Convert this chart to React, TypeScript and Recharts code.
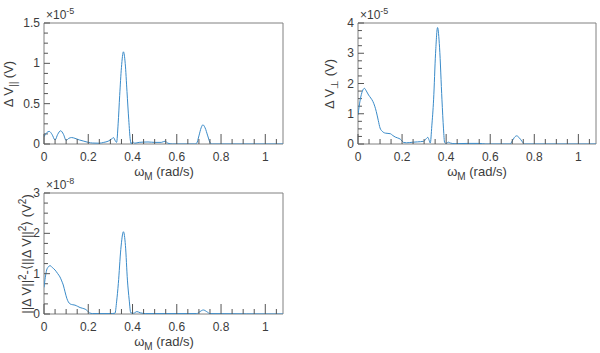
import { LineChart, Line, XAxis, YAxis, ReferenceArea, ReferenceLine } from 'recharts';

// ΔV parallel spectrum (×1e-5 V)
const parOmega = [0, 0.012, 0.024, 0.036, 0.05, 0.062, 0.075, 0.088, 0.1, 0.112, 0.125, 0.14, 0.16, 0.18, 0.2, 0.22, 0.25, 0.27, 0.29, 0.305, 0.314, 0.322, 0.328, 0.335, 0.342, 0.35, 0.359, 0.367, 0.375, 0.383, 0.39, 0.395, 0.4, 0.41, 0.43, 0.47, 0.5, 0.53, 0.547, 0.56, 0.58, 0.68, 0.69, 0.7, 0.71, 0.718, 0.728, 0.74, 0.752, 0.76, 1.08];
const parValues = [0.09, 0.14, 0.156, 0.12, 0.05, 0.12, 0.164, 0.12, 0.045, 0.07, 0.08, 0.07, 0.05, 0.035, 0.02, 0.012, 0.01, 0.02, 0.035, 0.06, 0.08, 0.04, 0.02, 0.25, 0.6, 0.95, 1.143, 1.0, 0.65, 0.3, 0.05, 0.0, 0.03, 0.01, 0.02, 0.025, 0.02, 0.02, 0.035, 0.01, 0.0, 0.0, 0.01, 0.1, 0.2, 0.238, 0.2, 0.1, 0.01, 0.0, 0.0];

// ΔV perpendicular spectrum (×1e-5 V)
const perpOmega = [0, 0.01, 0.02, 0.029, 0.038, 0.048, 0.058, 0.068, 0.076, 0.083, 0.092, 0.1, 0.11, 0.124, 0.136, 0.147, 0.158, 0.169, 0.18, 0.192, 0.2, 0.207, 0.22, 0.25, 0.27, 0.298, 0.31, 0.317, 0.323, 0.328, 0.335, 0.343, 0.352, 0.361, 0.37, 0.381, 0.388, 0.393, 0.4, 0.41, 0.42, 0.44, 0.5, 0.55, 0.58, 0.69, 0.7, 0.71, 0.72, 0.73, 0.745, 0.755, 1.08];
const perpValues = [0.96, 1.46, 1.75, 1.84, 1.75, 1.62, 1.52, 1.4, 1.25, 1.07, 0.78, 0.53, 0.42, 0.36, 0.35, 0.34, 0.28, 0.23, 0.2, 0.16, 0.1, 0.05, 0.04, 0.06, 0.07, 0.09, 0.18, 0.22, 0.12, 0.03, 0.6, 1.46, 3.0, 3.85, 3.2, 1.46, 0.5, 0.05, 0.02, 0.06, 0.03, 0.01, 0.02, 0.02, 0.0, 0.0, 0.1, 0.22, 0.27, 0.22, 0.08, 0.0, 0.0];

// variance of |ΔV|² (×1e-8 V²)
const varOmega = [0, 0.012, 0.02, 0.027, 0.038, 0.05, 0.062, 0.072, 0.08, 0.087, 0.095, 0.103, 0.11, 0.118, 0.13, 0.14, 0.152, 0.163, 0.175, 0.186, 0.196, 0.205, 0.22, 0.3, 0.321, 0.328, 0.336, 0.347, 0.359, 0.368, 0.377, 0.385, 0.392, 0.405, 0.42, 0.435, 0.46, 0.69, 0.705, 0.72, 0.735, 0.75, 1.08];
const varValues = [0.66, 1.09, 1.17, 1.2, 1.15, 1.09, 1.0, 0.92, 0.82, 0.72, 0.55, 0.39, 0.3, 0.25, 0.23, 0.22, 0.19, 0.16, 0.14, 0.12, 0.08, 0.03, 0.01, 0.01, 0.02, 0.3, 0.76, 1.6, 2.04, 1.7, 0.84, 0.35, 0.03, 0.02, 0.06, 0.03, 0.01, 0.01, 0.06, 0.1, 0.06, 0.01, 0.0];

const xMax = 1.08;
const xMinorTicks = Array.from({ length: 22 }, (_, i) => +(i * 0.05).toFixed(2));
const xMajorTicks = [0, 0.2, 0.4, 0.6, 0.8, 1];

const parYTicks = [0, 0.5, 1, 1.5];
const perpYTicks = [0, 1, 2, 3, 4];
const varYTicks = [0, 1, 2, 3];

const FONT = '"Liberation Sans", Arial, sans-serif';
const LINE = '#3a8bc9';
const BOX = '#808080';
const TICK = '#555555';
const TEXT = '#3c3c3c';
// minor y tick length, in ω units (≈4px)
const MINOR_LEN = 0.018;

const toRows = (xs: number[], ys: number[]) => xs.map((x, i) => ({ x, v: ys[i] }));

const isMajor = (v: number, majors: number[]) => majors.some((m) => Math.abs(m - v) < 1e-6);

// three minor ticks between labelled ones
function minorOnly(majors: number[]) {
  const out: number[] = [];
  for (let i = 0; i < majors.length - 1; i++) {
    const step = (majors[i + 1] - majors[i]) / 4;
    for (let k = 1; k < 4; k++) out.push(+(majors[i] + k * step).toFixed(4));
  }
  return out;
}

function XTick(props: any) {
  const { x, y, payload } = props;
  const major = isMajor(payload.value, xMajorTicks);
  return (
    <g>
      <line x1={x} x2={x} y1={y} y2={y - (major ? 10 : 5)} stroke={TICK} strokeWidth={1} />
      {major && (
        <text x={x} y={y + 17} textAnchor="middle" fontSize={12} fontFamily={FONT} fill={TEXT}>
          {String(payload.value)}
        </text>
      )}
    </g>
  );
}

function YTick(props: any) {
  const { x, y, payload } = props;
  return (
    <g>
      <line x1={x} x2={x + 6} y1={y} y2={y} stroke={TICK} strokeWidth={1} />
      <text x={x - 4} y={y + 4} textAnchor="end" fontSize={12} fontFamily={FONT} fill={TEXT}>
        {String(payload.value)}
      </text>
    </g>
  );
}

// x title, drawn by the XAxis label slot
function XTitle({ cx }: { cx: number }) {
  return (
    <text x={cx} y={176} textAnchor="middle" fontSize={13} fontFamily={FONT} fill={TEXT}>
      ω<tspan dy={4} fontSize={10}>M</tspan>
      <tspan dy={-4}> (rad/s)</tspan>
    </text>
  );
}

// y title plus the ×10^n multiplier, drawn by the YAxis label slot
function YTitle({ kind, tx, ex }: { kind: 'par' | 'perp' | 'var'; tx: number; ex: number }) {
  return (
    <g>
      <text x={ex} y={19} fontSize={12} fontFamily={FONT} fill={TEXT}>
        ×10
        <tspan dy={-5} fontSize={9}>{kind === 'var' ? '-8' : '-5'}</tspan>
      </text>
      {kind === 'par' && (
        <text transform={`translate(${tx},84) rotate(-90)`} textAnchor="middle" fontSize={13} fontFamily={FONT} fill={TEXT}>
          Δ V<tspan dy={4} fontSize={10}>||</tspan>
          <tspan dy={-4}> (V)</tspan>
        </text>
      )}
      {kind === 'perp' && (
        <text transform={`translate(${tx},84) rotate(-90)`} textAnchor="middle" fontSize={13} fontFamily={FONT} fill={TEXT}>
          Δ V<tspan dy={4} fontSize={10}>⊥</tspan>
          <tspan dy={-4}> (V)</tspan>
        </text>
      )}
      {kind === 'var' && (
        <text transform={`translate(${tx},84) rotate(-90)`} textAnchor="middle" fontSize={13} fontFamily={FONT} fill={TEXT}>
          ||Δ V||<tspan dy={-5} fontSize={10}>2</tspan>
          <tspan dy={5}>-⟨||Δ V||</tspan>
          <tspan dy={-5} fontSize={10}>2</tspan>
          <tspan dy={5}>⟩ (V</tspan>
          <tspan dy={-5} fontSize={10}>2</tspan>
          <tspan dy={5}>)</tspan>
        </text>
      )}
    </g>
  );
}

const panels = [
  { kind: 'par' as const, left: 0, top: 0, yAxisWidth: 44, right: 17, rows: toRows(parOmega, parValues), ticks: parYTicks, tx: 13, ex: 46, cx: 164 },
  { kind: 'perp' as const, left: 300, top: 0, yAxisWidth: 58, right: 4, rows: toRows(perpOmega, perpValues), ticks: perpYTicks, tx: 34, ex: 60, cx: 177 },
  { kind: 'var' as const, left: 0, top: 170, yAxisWidth: 44, right: 17, rows: toRows(varOmega, varValues), ticks: varYTicks, tx: 31, ex: 46, cx: 164 },
];

export default function App() {
  return (
    <div style={{ position: 'absolute', left: 0, top: 0, width: 600, height: 353, background: '#fff', fontFamily: FONT }}>
      {panels.map((p) => {
        const yMax = p.ticks[p.ticks.length - 1];
        return (
          <div key={p.kind} style={{ position: 'absolute', left: p.left, top: p.top, width: 300, height: 182 }}>
            <LineChart width={300} height={182} data={p.rows} margin={{ top: 23, right: p.right, bottom: 0, left: 0 }}>
              <ReferenceArea x1={0} x2={xMax} y1={0} y2={yMax} fill="none" stroke={BOX} strokeWidth={1} />
              {minorOnly(p.ticks).map((v) => (
                <ReferenceLine
                  key={v}
                  segment={[{ x: 0, y: v }, { x: MINOR_LEN, y: v }]}
                  stroke={TICK}
                  strokeWidth={1}
                />
              ))}
              <XAxis
                dataKey="x"
                type="number"
                domain={[0, xMax]}
                allowDataOverflow
                ticks={xMinorTicks}
                interval={0}
                height={38}
                axisLine={false}
                tickLine={false}
                tickSize={0}
                tickMargin={0}
                tick={<XTick />}
                label={<XTitle cx={p.cx} />}
              />
              <YAxis
                type="number"
                domain={[0, yMax]}
                allowDataOverflow
                ticks={p.ticks}
                interval={0}
                width={p.yAxisWidth}
                axisLine={false}
                tickLine={false}
                tickSize={0}
                tickMargin={0}
                tick={<YTick />}
                label={<YTitle kind={p.kind} tx={p.tx} ex={p.ex} />}
              />
              <Line type="monotone" dataKey="v" stroke={LINE} strokeWidth={1} dot={false} isAnimationActive={false} />
            </LineChart>
          </div>
        );
      })}
    </div>
  );
}
